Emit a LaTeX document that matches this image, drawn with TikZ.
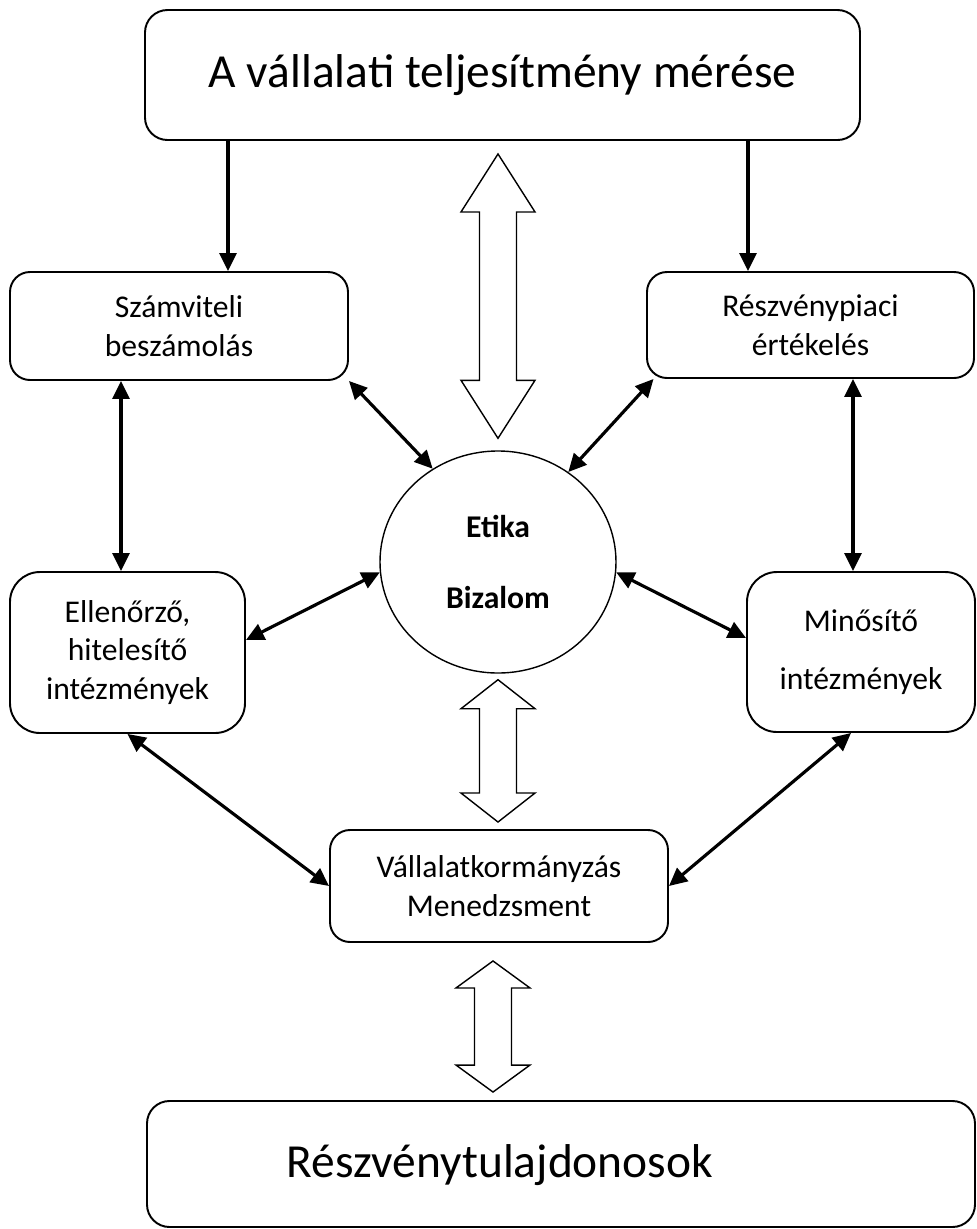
\documentclass[tikz,border=0pt]{standalone}
\usepackage{fontspec}
\setmainfont{Carlito}
\usetikzlibrary{arrows.meta,shapes.geometric,positioning,calc}

\newcommand{\twinarrow}[3]{%
\draw[hollow] (#1) -- ($(#1)+(0.74,-#3)$) -- ($(#1)+(0.37,-#3)$) -- ($(#2)+(0.37,#3)$) -- ($(#2)+(0.74,#3)$) -- (#2)
  -- ($(#2)+(-0.74,#3)$) -- ($(#2)+(-0.37,#3)$) -- ($(#1)+(-0.37,-#3)$) -- ($(#1)+(-0.74,-#3)$) -- cycle;}

\begin{document}
\begin{tikzpicture}[
box/.style={rectangle, draw, line width=1.1pt, rounded corners=0.4cm, align=center, inner sep=0pt, font=\fontsize{18}{22}\selectfont},
bigbox/.style={box, rounded corners=0.45cm, font=\fontsize{27}{32}\selectfont},
core/.style={ellipse, draw, line width=0.8pt, minimum width=4.72cm, minimum height=4.44cm, inner sep=0pt, align=center, font=\fontsize{18}{40}\selectfont\bfseries},
link/.style={{Triangle[length=0.36cm,width=0.34cm]}-{Triangle[length=0.36cm,width=0.34cm]}, line width=1.8pt},
feed/.style={-{Triangle[length=0.36cm,width=0.34cm]}, line width=1.8pt},
hollow/.style={draw, line width=0.8pt, fill=white}
]
\useasboundingbox (0,0) rectangle (19.54,-24.58);
\node[bigbox, minimum width=14.3cm, minimum height=2.6cm] (meres) at (10.05,-1.5) {A vállalati teljesítmény mérése};
\node[box, minimum width=6.76cm, minimum height=2.16cm] (szamv) at (3.58,-6.52) {Számviteli\\beszámolás};
\node[box, minimum width=6.54cm, minimum height=2.12cm] (reszv) at (16.21,-6.5) {Részvénypiaci\\értékelés};
\node[core] (etika) at (9.96,-11.24) {Etika\\Bizalom};
\node[box, rounded corners=0.6cm, minimum width=4.7cm, minimum height=3.22cm] (ellen) at (2.55,-13.05) {Ellenőrző,\\hitelesítő\\intézmények};
\node[box, rounded corners=0.6cm, minimum width=4.56cm, minimum height=3.2cm, font=\fontsize{18}{33}\selectfont] (minos) at (17.22,-13.04) {Minősítő\\intézmények};
\node[box, minimum width=6.76cm, minimum height=2.24cm] (vall) at (9.98,-17.72) {Vállalatkormányzás\\Menedzsment};
\node[bigbox, minimum width=16.56cm, minimum height=2.52cm] (tul) at (11.22,-23.28) {};
\node[font=\fontsize{27}{32}\selectfont] (tultext) at (10.0,-23.3) {Részvénytulajdonosok};

\draw[feed] ([xshift=0.98cm]szamv.north |- meres.south) -- ([xshift=0.98cm]szamv.north);
\draw[feed] ([xshift=-1.25cm]reszv.north |- meres.south) -- ([xshift=-1.25cm]reszv.north);
\draw[link] ([xshift=-0.13cm]ellen.north |- szamv.south) -- ([xshift=-0.13cm]ellen.north);
\draw[link] ([xshift=-0.16cm]minos.north |- reszv.south) -- ([xshift=-0.16cm]minos.north);
\draw[link] (szamv.south east) -- (etika.125);
\draw[link] ([xshift=0.15cm]reszv.south west) -- (etika.52);
\draw[link] ([yshift=0.25cm]ellen.east) -- (etika.185);
\draw[link] (etika.355) -- ([yshift=0.28cm]minos.west);
\draw[link] (ellen.south) -- (vall.west);
\draw[link] ([xshift=-0.2cm]minos.south) -- (vall.east);

\coordinate (ua) at ($(meres.south -| etika.north)+(0,-0.26)$);
\coordinate (la) at ($(etika.north)+(0,0.24)$);
\coordinate (ub) at ($(etika.south)+(0,-0.12)$);
\coordinate (lb) at ($(vall.north -| etika.south)+(0,0.14)$);
\coordinate (uc) at ($(vall.south)+(-0.12,-0.36)$);
\coordinate (lc) at ($(tul.north -| vall.south)+(-0.12,0.16)$);
\twinarrow{ua}{la}{1.16}
\twinarrow{ub}{lb}{0.58}
\twinarrow{uc}{lc}{0.54}
\end{tikzpicture}
\end{document}
